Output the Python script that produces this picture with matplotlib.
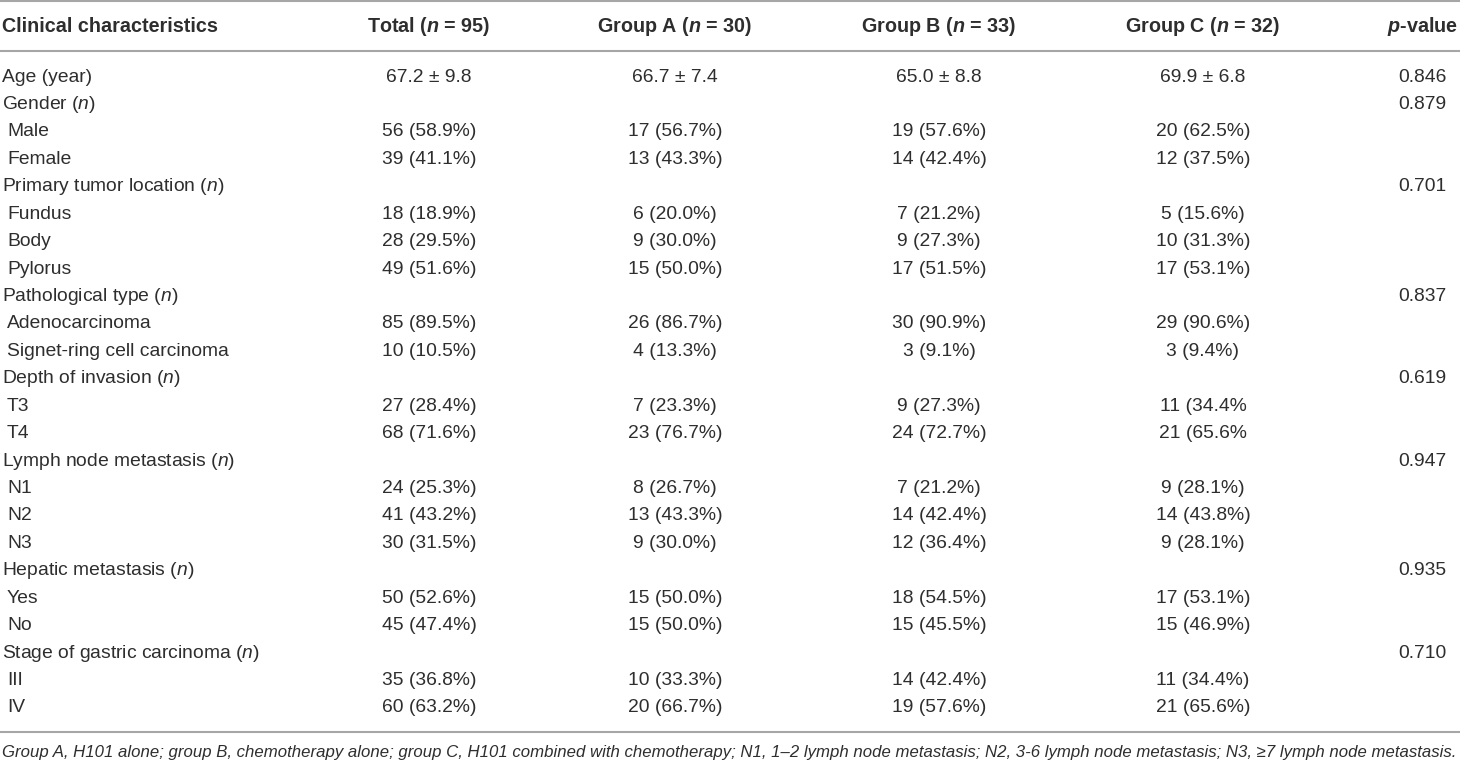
import numpy as np
import matplotlib
matplotlib.use("Agg")
import matplotlib.pyplot as plt

plt.rcParams['font.family'] = ['Liberation Sans', 'DejaVu Sans']
plt.rcParams['mathtext.fontset'] = 'custom'
plt.rcParams['mathtext.rm'] = 'Liberation Sans'
plt.rcParams['mathtext.it'] = 'Liberation Sans:italic'
plt.rcParams['mathtext.bf'] = 'Liberation Sans:bold'
plt.rcParams['mathtext.bfit'] = 'Liberation Sans:italic:bold'

# table content
headers = ["Clinical characteristics", r"Total ($\mathbfit{n}$ = 95)", r"Group A ($\mathbfit{n}$ = 30)",
           r"Group B ($\mathbfit{n}$ = 33)", r"Group C ($\mathbfit{n}$ = 32)", r"$\mathbfit{p}$-value"]

labels = ["Age (year)", r"Gender ($n$)", " Male", " Female",
          r"Primary tumor location ($n$)", " Fundus", " Body", " Pylorus",
          r"Pathological type ($n$)", " Adenocarcinoma", " Signet-ring cell carcinoma",
          r"Depth of invasion ($n$)", " T3", " T4",
          r"Lymph node metastasis ($n$)", " N1", " N2", " N3",
          r"Hepatic metastasis ($n$)", " Yes", " No",
          r"Stage of gastric carcinoma ($n$)", " III", " IV"]

total = ["67.2 ± 9.8", "", "56 (58.9%)", "39 (41.1%)",
         "", "18 (18.9%)", "28 (29.5%)", "49 (51.6%)",
         "", "85 (89.5%)", "10 (10.5%)",
         "", "27 (28.4%)", "68 (71.6%)",
         "", "24 (25.3%)", "41 (43.2%)", "30 (31.5%)",
         "", "50 (52.6%)", "45 (47.4%)",
         "", "35 (36.8%)", "60 (63.2%)"]

group_a = ["66.7 ± 7.4", "", "17 (56.7%)", "13 (43.3%)",
           "", "6 (20.0%)", "9 (30.0%)", "15 (50.0%)",
           "", "26 (86.7%)", "4 (13.3%)",
           "", "7 (23.3%)", "23 (76.7%)",
           "", "8 (26.7%)", "13 (43.3%)", "9 (30.0%)",
           "", "15 (50.0%)", "15 (50.0%)",
           "", "10 (33.3%)", "20 (66.7%)"]

group_b = ["65.0 ± 8.8", "", "19 (57.6%)", "14 (42.4%)",
           "", "7 (21.2%)", "9 (27.3%)", "17 (51.5%)",
           "", "30 (90.9%)", "3 (9.1%)",
           "", "9 (27.3%)", "24 (72.7%)",
           "", "7 (21.2%)", "14 (42.4%)", "12 (36.4%)",
           "", "18 (54.5%)", "15 (45.5%)",
           "", "14 (42.4%)", "19 (57.6%)"]

group_c = ["69.9 ± 6.8", "", "20 (62.5%)", "12 (37.5%)",
           "", "5 (15.6%)", "10 (31.3%)", "17 (53.1%)",
           "", "29 (90.6%)", "3 (9.4%)",
           "", "11 (34.4%", "21 (65.6%",
           "", "9 (28.1%)", "14 (43.8%)", "9 (28.1%)",
           "", "17 (53.1%)", "15 (46.9%)",
           "", "11 (34.4%)", "21 (65.6%)"]

p_values = ["0.846", "0.879", "", "",
            "0.701", "", "", "",
            "0.837", "", "",
            "0.619", "", "",
            "0.947", "", "", "",
            "0.935", "", "",
            "0.710", "", ""]

footnote = ("Group A, H101 alone; group B, chemotherapy alone; group C, H101 combined with chemotherapy; "
            "N1, 1–2 lymph node metastasis; N2, 3-6 lymph node metastasis; N3, ≥7 lymph node metastasis.")

TXT = '#2e2e2e'
LINE = '#a6a6a6'
FS = 13.9
FS_HEAD = 14.2

fig = plt.figure(figsize=(14.6, 7.62), dpi=100)
ax = fig.add_axes([0, 0, 1, 1])
ax.set_xlim(0, 1460)
ax.set_ylim(762, 0)
ax.axis('off')

col_x = [2, 429, 675, 939, 1203, 1422]

# rules
for y in [1, 51, 732]:
    ax.plot([0, 1460], [y, y], color=LINE, lw=1.5, solid_capstyle='butt')

# header
for i, h in enumerate(headers):
    ha = 'left' if i == 0 else 'center'
    ax.text(col_x[i], 26, h, ha=ha, va='center', fontsize=FS_HEAD, fontweight='bold', color=TXT)

# body
row_y0, row_dy = 77, 27.43
columns = [total, group_a, group_b, group_c, p_values]
for r, lab in enumerate(labels):
    y = row_y0 + r * row_dy
    x0 = col_x[0]
    if lab.startswith(" "):
        x0 = col_x[0] + 5
    ax.text(x0, y, lab.strip(), ha='left', va='center', fontsize=FS, color=TXT)
    for c, vals in enumerate(columns):
        if vals[r]:
            ax.text(col_x[c + 1], y, vals[r], ha='center', va='center', fontsize=FS, color=TXT)

ax.text(col_x[0], 752, footnote, ha='left', va='center', fontsize=12.05, style='italic', color=TXT)

fig.savefig("out.png", dpi=100)
